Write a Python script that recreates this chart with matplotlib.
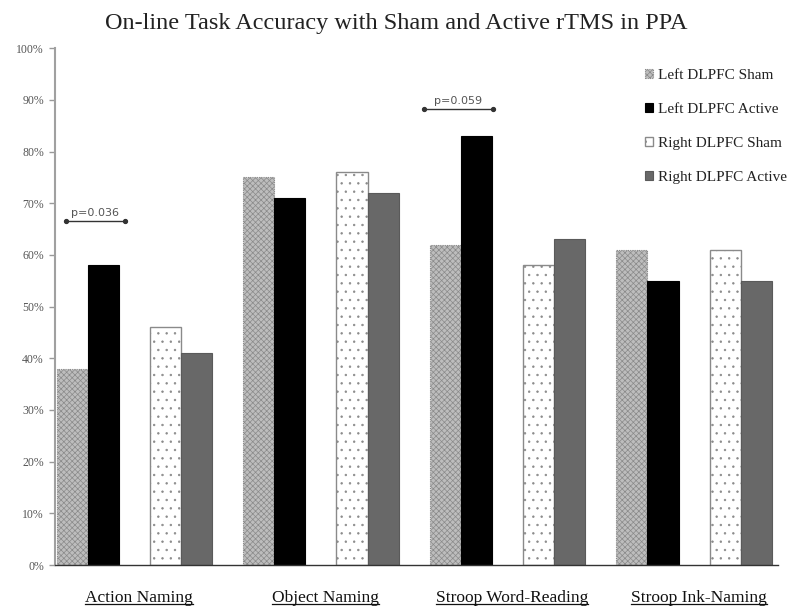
import matplotlib
matplotlib.use("Agg")
import matplotlib.pyplot as plt
import numpy as np

plt.rcParams['font.family'] = ['Liberation Serif', 'DejaVu Serif']
plt.rcParams['hatch.linewidth'] = 0.5

categories = ["Action Naming", "Object Naming", "Stroop Word-Reading", "Stroop Ink-Naming"]
series_names = ["Left DLPFC Sham", "Left DLPFC Active", "Right DLPFC Sham", "Right DLPFC Active"]
left_sham = [0.38, 0.75, 0.62, 0.61]
left_active = [0.58, 0.71, 0.83, 0.55]
right_sham = [0.46, 0.76, 0.58, 0.61]
right_active = [0.41, 0.72, 0.63, 0.55]
p_labels = ["p=0.036", "p=0.059"]
y_ticks = [0.0, 0.1, 0.2, 0.3, 0.4, 0.5, 0.6, 0.7, 0.8, 0.9, 1.0]

fig = plt.figure(figsize=(7.92, 6.08), dpi=100)
ax = fig.add_axes([0.0694, 0.0707, 0.913, 0.850])

styles = [
    dict(facecolor="#bdbdbd", edgecolor="#8a8a8a", hatch="xxxxxx", linewidth=0.8, linestyle=(0, (1, 1))),
    dict(facecolor="#000000", edgecolor="#000000", linewidth=0.8),
    dict(facecolor="#ffffff", edgecolor="#8a8a8a", hatch="..", linewidth=1.0),
    dict(facecolor="#686868", edgecolor="#5a5a5a", linewidth=0.8),
]

n = len(categories)
group_start = np.arange(n) * 6.0
series = [left_sham, left_active, right_sham, right_active]
offsets = [0.5, 1.5, 3.5, 4.5]
handles = []
for vals, off, st, name in zip(series, offsets, styles, series_names):
    h = ax.bar(group_start + off, vals, width=1.0, label=name, **st)
    handles.append(h)

ax.set_xlim(-0.05, 23.2)
ax.set_ylim(0, 1.0)
ax.set_yticks(y_ticks)
ax.set_yticklabels([f"{int(round(t * 100))}%" for t in y_ticks], fontsize=8.5, color="#555555")
ax.set_xticks([])
ax.tick_params(axis='y', direction='out', length=4, width=1, color="#999999", pad=4)

for s in ["top", "right"]:
    ax.spines[s].set_visible(False)
ax.spines["left"].set_color("#a0a0a0")
ax.spines["left"].set_linewidth(1.5)
ax.spines["bottom"].set_color("#333333")
ax.spines["bottom"].set_linewidth(1.0)

# significance brackets
brackets = [(0.32, 2.2, 0.665, 1.25, p_labels[0]), (11.83, 14.03, 0.882, 12.9, p_labels[1])]
for x0, x1, yb, xt, lab in brackets:
    ax.plot([x0, x1], [yb, yb], color="#333333", lw=1.0, marker="o", markersize=2.8,
            markevery=[0, 1], clip_on=False)
    ax.text(xt, yb + 0.006, lab, ha="center", va="bottom", fontsize=8, color="#555555",
            family=['DejaVu Sans'])

# category labels, underlined
label_texts = []
for i, cat in enumerate(categories):
    xc = group_start[i] + 2.65
    t = ax.text(xc, -0.064, cat, ha="center", va="center", fontsize=12.5,
                transform=ax.get_xaxis_transform(), color="#111111")
    label_texts.append(t)

fig.suptitle("On-line Task Accuracy with Sham and Active rTMS in PPA", fontsize=17.5,
             y=0.979, color="#222222")

leg = ax.legend(handles=handles, loc="upper left", bbox_to_anchor=(0.808, 0.972), frameon=False,
                fontsize=11, handlelength=0.5, handleheight=0.5, handletextpad=0.3,
                labelspacing=1.37, borderaxespad=0)
for txt in leg.get_texts():
    txt.set_color("#222222")

fig.canvas.draw()
renderer = fig.canvas.get_renderer()
inv = fig.transFigure.inverted()
for t in label_texts:
    bb = t.get_window_extent(renderer)
    (x0, y0), (x1, y1) = inv.transform([(bb.x0, bb.y0), (bb.x1, bb.y1)])
    fig.add_artist(plt.Line2D([x0, x1], [y0 + 0.003, y0 + 0.003], color="#111111", lw=0.9,
                              transform=fig.transFigure))

fig.savefig("out.png", dpi=100)
